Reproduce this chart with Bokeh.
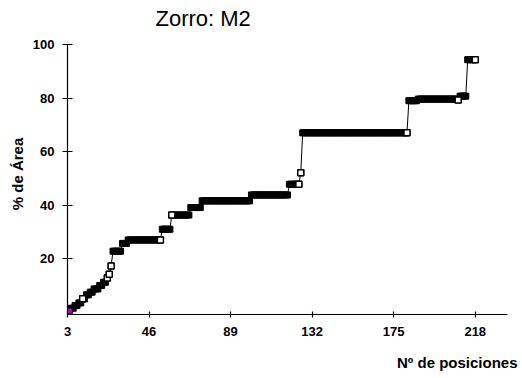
import numpy as np
from bokeh.plotting import figure
from bokeh.models import Range1d, FixedTicker, Title
from bokeh.embed import file_html
from bokeh.resources import INLINE

# Step runs: positions start..end share one % level
run_start = [4, 5, 7, 9, 11, 13, 15, 17, 20, 22, 24, 25, 26, 27, 32, 35, 53, 58, 68, 74, 100, 120, 126, 127, 183, 188, 209, 210, 214]
run_end = [4, 6, 8, 10, 12, 14, 16, 19, 21, 23, 24, 25, 26, 31, 34, 52, 57, 67, 73, 99, 119, 125, 126, 182, 187, 208, 209, 213, 218]
run_level = [0.5, 1.5, 2.5, 3.5, 5.0, 6.5, 7.5, 8.7, 10.0, 11.2, 12.8, 14.2, 17.3, 22.8, 25.7, 27.0, 31.0, 36.3, 39.1, 41.6, 43.8, 47.8, 52.1, 67.0, 79.0, 79.6, 79.3, 80.7, 94.3]
# positions whose square shows open (white) in the picture
open_pos = [11, 24, 25, 26, 52, 58, 125, 126, 182, 209, 218]

x_ticks = [3, 46, 89, 132, 175, 218]
y_ticks = [20, 40, 60, 80, 100]

xs = []
ys = []
for s, e, v in zip(run_start, run_end, run_level):
    for k in range(s, e + 1):
        xs.append(k)
        ys.append(v)
ox = [k for k in xs if k in open_pos]
oy = [ys[xs.index(k)] for k in ox]

p = figure(width=522, height=378, output_backend="svg", toolbar_location=None,
           x_range=Range1d(3, 235), y_range=Range1d(-0.84, 104.09),
           min_border_left=67, min_border_right=15, min_border_top=32, min_border_bottom=64)
p.outline_line_color = None
p.xgrid.visible = False
p.ygrid.visible = False
p.background_fill_color = "white"

p.line(xs, ys, line_color="black", line_width=1)
p.scatter(xs, ys, marker="square", size=6, fill_color="black", line_color="black", line_width=1)
p.scatter(ox, oy, marker="square", size=6, fill_color="white", line_color="black", line_width=1.5)
p.scatter(xs[:1], ys[:1], marker="square", size=4, fill_color="#c000c0", line_color="#c000c0")

font = "Liberation Sans"
for ax in (p.xaxis[0], p.yaxis[0]):
    ax.axis_line_color = "black"
    ax.axis_line_width = 1.2
    ax.major_tick_line_color = "black"
    ax.major_tick_line_width = 1.2
    ax.minor_tick_line_color = None
    ax.major_label_text_font = font
    ax.major_label_text_font_style = "bold"
    ax.major_label_text_font_size = "13px"
    ax.major_label_text_color = "black"

p.yaxis.bounds = (-0.84, 100)
p.xaxis.ticker = FixedTicker(ticks=x_ticks)
p.yaxis.ticker = FixedTicker(ticks=y_ticks)
p.xaxis.major_tick_in = 3
p.xaxis.major_tick_out = 3
p.yaxis.major_tick_in = 5
p.yaxis.major_tick_out = 5
p.xaxis.major_label_standoff = 9
p.yaxis.major_label_standoff = 8

p.yaxis.axis_label = "% de Área"
p.yaxis.axis_label_text_font = font
p.yaxis.axis_label_text_font_style = "bold"
p.yaxis.axis_label_text_font_size = "15px"
p.yaxis.axis_label_text_color = "black"
p.yaxis.axis_label_standoff = 4

# spacer between the x axis and its label
p.add_layout(Title(text="\u00a0", text_font_size="2px", standoff=8), "below")
p.add_layout(Title(text="Nº de posiciones", align="right", offset=-10, text_font=font,
                   text_font_style="bold", text_font_size="15px", standoff=2,
                   text_color="black"), "below")

p.title.text = "Zorro: M2"
p.title.align = "left"
p.title.offset = 88
p.title.text_font = font
p.title.text_font_style = "normal"
p.title.text_font_size = "22px"
p.title.text_color = "black"
p.title.standoff = 6

open("out.html", "w").write(file_html(p, INLINE))
